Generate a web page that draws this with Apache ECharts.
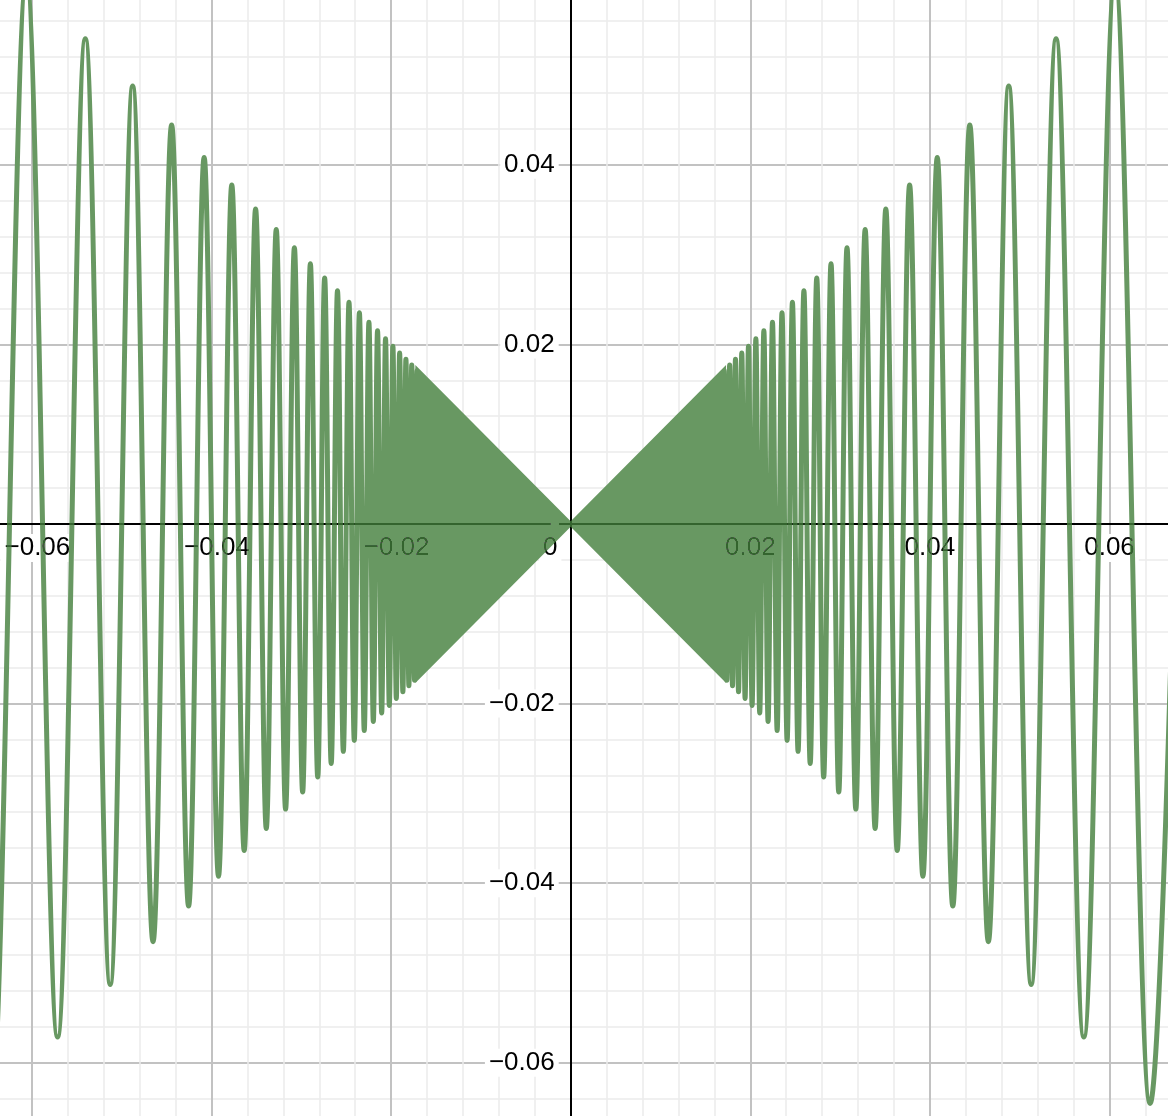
<!DOCTYPE html>
<html>
<head>
<meta charset="utf-8">
<script src="https://cdn.jsdelivr.net/npm/echarts@6/dist/echarts.min.js"></script>
<style>
html,body{margin:0;padding:0;background:#fff;}
#chart{width:1168px;height:1116px;}
</style>
</head>
<body>
<div id="chart"></div>
<script>
// Extrema of the oscillating curve (right side, outer to inner)
var rightPeakX = [0.06897, 0.06452, 0.06061, 0.05714, 0.05405, 0.05128, 0.04878, 0.04651, 0.04444, 0.04255,
  0.04082, 0.03922, 0.03774, 0.03636, 0.03509, 0.03390, 0.03279, 0.03175, 0.03077, 0.02985,
  0.02899, 0.02817, 0.02740, 0.02667, 0.02597, 0.02532, 0.02469, 0.02410, 0.02353, 0.02299,
  0.02247, 0.02198, 0.02151, 0.02105, 0.02062, 0.02020, 0.01980, 0.01942, 0.01905, 0.01869,
  0.01835, 0.01802, 0.01770, 0.01739, 0.01709, 0.01681];
var rightPeakY = [0.06897, -0.06452, 0.06061, -0.05714, 0.05405, -0.05128, 0.04878, -0.04651, 0.04444, -0.04255,
  0.04082, -0.03922, 0.03774, -0.03636, 0.03509, -0.03390, 0.03279, -0.03175, 0.03077, -0.02985,
  0.02899, -0.02817, 0.02740, -0.02667, 0.02597, -0.02532, 0.02469, -0.02410, 0.02353, -0.02299,
  0.02247, -0.02198, 0.02151, -0.02105, 0.02062, -0.02020, 0.01980, -0.01942, 0.01905, -0.01869,
  0.01835, -0.01802, 0.01770, -0.01739, 0.01709, -0.01681];
// Left side (outer to inner)
var leftPeakX = [-0.06897, -0.06452, -0.06061, -0.05714, -0.05405, -0.05128, -0.04878, -0.04651, -0.04444, -0.04255,
  -0.04082, -0.03922, -0.03774, -0.03636, -0.03509, -0.03390, -0.03279, -0.03175, -0.03077, -0.02985,
  -0.02899, -0.02817, -0.02740, -0.02667, -0.02597, -0.02532, -0.02469, -0.02410, -0.02353, -0.02299,
  -0.02247, -0.02198, -0.02151, -0.02105, -0.02062, -0.02020, -0.01980, -0.01942, -0.01905, -0.01869,
  -0.01835, -0.01802, -0.01770, -0.01739, -0.01709, -0.01681];
var leftPeakY = [0.06897, -0.06452, 0.06061, -0.05714, 0.05405, -0.05128, 0.04878, -0.04651, 0.04444, -0.04255,
  0.04082, -0.03922, 0.03774, -0.03636, 0.03509, -0.03390, 0.03279, -0.03175, 0.03077, -0.02985,
  0.02899, -0.02817, 0.02740, -0.02667, 0.02597, -0.02532, 0.02469, -0.02410, 0.02353, -0.02299,
  0.02247, -0.02198, 0.02151, -0.02105, 0.02062, -0.02020, 0.01980, -0.01942, 0.01905, -0.01869,
  0.01835, -0.01802, 0.01770, -0.01739, 0.01709, -0.01681];
// Dense (solid) bow-tie core near the origin: its outline
var coreX = [-0.0173, 0, 0.0173];
var coreUpperY = [0.0177, 0.0003, 0.0177];
var coreLowerY = [-0.0177, -0.0003, -0.0177];
// Axis ticks
var axisMin = -0.08, axisMax = 0.08, majorStep = 0.02;

function pairs(xs, ys){ var out=[]; for (var i=0;i<xs.length;i++) out.push([xs[i], ys[i]]); return out; }
function numText(v){ var s = Math.abs(v).toFixed(2); return (v < 0 ? '\u2212' : '') + s; }

var FONT = '"Liberation Sans", Arial, Helvetica, sans-serif';
var FS = 26;
// Curve colour over white, and its look over the black axis / labels
var GREEN = 'rgb(104,152,98)';
var GREEN_DARK = 'rgb(52,100,46)';
function lab(extra){ var o = {fontSize:FS, lineHeight:FS, fontFamily:FONT, color:'#000', backgroundColor:'#fff', padding:[1,4,1,4]}; for (var k in extra) o[k]=extra[k]; return o; }

var chart = echarts.init(document.getElementById('chart'), null, {renderer:'canvas'});
// scale: ~8980 px per unit, origin at (570.7, 524)
var S = 8980, OX = 570.7, OY = 524;
// the grid is larger than the canvas; the axes are shifted in to the origin
var AXIS_SHIFT = axisMin * S;

function curveSeries(data, color, blend){
  return {type:'line', data:data, smooth:0.36, symbol:'none', clip:true, silent:true,
    lineStyle:{color:color, width:5}, blendMode:blend, z:3};
}
function coreSeries(data, color, blend){
  return {type:'line', data:data, symbol:'none', silent:true, blendMode:blend,
    lineStyle:{width:0, opacity:0}, areaStyle:{color:color, opacity:1, origin:0}, z:3};
}
var L = pairs(leftPeakX, leftPeakY), R = pairs(rightPeakX, rightPeakY);
var CU = pairs(coreX, coreUpperY), CL = pairs(coreX, coreLowerY);

var option = {
  animation:false,
  backgroundColor:'#fff',
  grid:{left: OX + axisMin*S, top: OY - axisMax*S, width:(axisMax-axisMin)*S, height:(axisMax-axisMin)*S, containLabel:false, outerBoundsMode:'none'},
  xAxis:{
    type:'value', min:axisMin, max:axisMax, interval:majorStep,
    position:'bottom', offset:AXIS_SHIFT,
    axisLine:{show:true, onZero:false, lineStyle:{color:'#000', width:2}},
    axisTick:{show:false},
    minorTick:{show:false, splitNumber:5},
    splitLine:{show:true, lineStyle:{color:'#c2c2c2', width:2}},
    minorSplitLine:{show:true, lineStyle:{color:'#ebebeb', width:1.5}},
    axisLabel:{
      margin:11,
      formatter:function(v){
        if (Math.abs(v) < 1e-9) return '{p|0}{g| }';
        return v < 0 ? '{s| }{p|' + numText(v) + '}' : '{p|' + numText(v) + '}';
      },
      rich:{
        p: lab({}),
        g: {fontSize:FS, lineHeight:FS, width:41},
        s: {fontSize:FS, lineHeight:FS, width:11}
      }
    }
  },
  yAxis:{
    type:'value', min:axisMin, max:axisMax, interval:majorStep,
    position:'left', offset:AXIS_SHIFT,
    axisLine:{show:true, onZero:false, lineStyle:{color:'#000', width:2}},
    axisTick:{show:false},
    minorTick:{show:false, splitNumber:5},
    splitLine:{show:true, lineStyle:{color:'#c2c2c2', width:2}},
    minorSplitLine:{show:true, lineStyle:{color:'#ebebeb', width:1.5}},
    axisLabel:{
      margin:12, fontSize:FS, lineHeight:FS, fontFamily:FONT, color:'#000',
      backgroundColor:'#fff', padding:[1,4,1,4],
      formatter:function(v){ return Math.abs(v) < 1e-9 ? '' : numText(v); }
    }
  },
  series:[
    // pass 1: paint the green (never lighter than what is below, so overlaps do not stack)
    curveSeries(L, GREEN, 'darken'),
    curveSeries(R, GREEN, 'darken'),
    coreSeries(CU, GREEN, 'darken'),
    coreSeries(CL, GREEN, 'darken'),
    // pass 2: axis line and labels seen through the green turn dark green
    curveSeries(L, GREEN_DARK, 'lighten'),
    curveSeries(R, GREEN_DARK, 'lighten'),
    coreSeries(CU, GREEN_DARK, 'lighten'),
    coreSeries(CL, GREEN_DARK, 'lighten')
  ]
};
chart.setOption(option);
</script>
</body>
</html>
